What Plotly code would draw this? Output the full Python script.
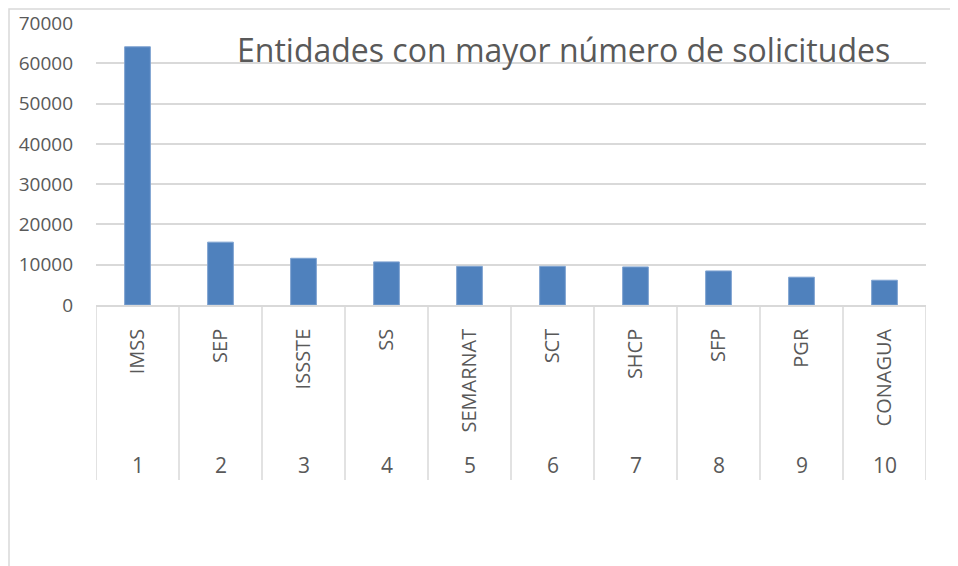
import plotly.graph_objects as go

ranks = ["1", "2", "3", "4", "5", "6", "7", "8", "9", "10"]
entidades = ["IMSS", "SEP", "ISSSTE", "SS", "SEMARNAT", "SCT", "SHCP", "SFP", "PGR", "CONAGUA"]
solicitudes = [64100, 15600, 11600, 10700, 9600, 9600, 9450, 8450, 6900, 6150]
y_ticks = [0, 10000, 20000, 30000, 40000, 50000, 60000, 70000]
title_text = "Entidades con mayor número de solicitudes"

FONT = "Open Sans"
TXT = "#595959"
GRID = "#d9d9d9"
PLOT_H = 282  # px height of plotting area (for paper-relative offsets)

fig = go.Figure()
fig.add_trace(go.Bar(
    x=entidades,
    y=solicitudes,
    marker=dict(color="#4f81bd", line=dict(color="#7fa3d1", width=1)),
    width=0.31,
))

annotations = [dict(
    text=title_text, xref="paper", yref="paper", x=0.563, y=0.905,
    xanchor="center", yanchor="middle", showarrow=False,
    font=dict(family=FONT, size=32, color=TXT),
)]
for name, rank in zip(entidades, ranks):
    annotations.append(dict(
        text=rank, x=name, xref="x", y=-160 / PLOT_H, yref="paper",
        xanchor="center", yanchor="middle", showarrow=False,
        font=dict(family=FONT, size=21, color=TXT),
    ))

shapes = [dict(type="rect", xref="paper", yref="paper",
               x0=-87 / 830, x1=1.2, y0=-2, y1=1 + 14 / PLOT_H,
               line=dict(color=GRID, width=1.5), layer="below")]
for i in range(len(entidades) + 1):
    shapes.append(dict(type="line", xref="x", yref="paper",
                       x0=i - 0.5, x1=i - 0.5, y0=0, y1=-175 / PLOT_H,
                       line=dict(color=GRID, width=1.5)))

fig.update_layout(
    width=958, height=566,
    margin=dict(l=88, r=40, t=15, b=269, autoexpand=False),
    paper_bgcolor="white", plot_bgcolor="white",
    showlegend=False,
    font=dict(family=FONT, color=TXT, size=19),
    annotations=annotations,
    shapes=shapes,
    bargap=0.69,
)
fig.update_yaxes(
    range=[0, 70000], tickvals=y_ticks, tickformat="d",
    showgrid=True, gridcolor=GRID, gridwidth=1.5,
    zeroline=False, showline=False, ticks="", ticklabelstandoff=22,
    tickfont=dict(size=19, color=TXT),
)
fig.update_xaxes(
    type="category", range=[-0.5, len(entidades) - 0.5],
    tickangle=-90, showline=True, linecolor=GRID, linewidth=1.5,
    showgrid=False, tickfont=dict(size=20, color=TXT), ticks="", ticklabelstandoff=14,
)
fig.write_html("out.html")
